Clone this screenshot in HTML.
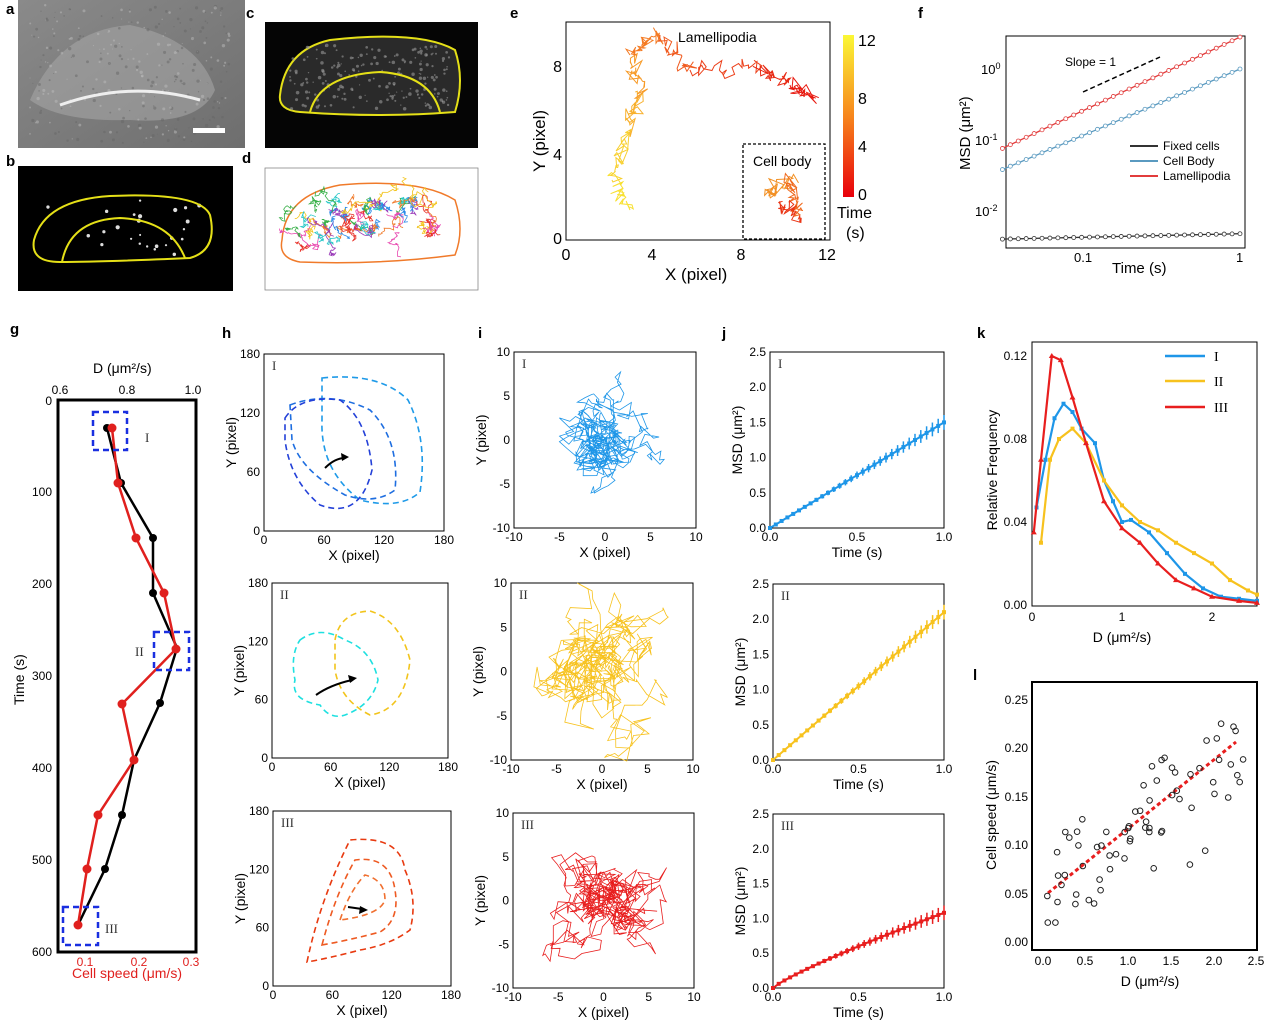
<!DOCTYPE html>
<html><head><meta charset="utf-8"><style>
html,body{margin:0;padding:0;background:#fff}
svg{display:block;font-family:"Liberation Sans",Arial,sans-serif}
.pl{font-weight:bold;font-size:15px}
.t{font-size:12px}
.tl{font-size:14px}
</style></head><body>
<svg id="s" width="1269" height="1025" viewBox="0 0 1269 1025" xmlns="http://www.w3.org/2000/svg">
<defs>
<linearGradient id="gA" x1="0" y1="0" x2="1" y2="1"><stop offset="0" stop-color="#8a8a8a"/><stop offset="0.5" stop-color="#7c7c7c"/><stop offset="1" stop-color="#6e6e6e"/></linearGradient>
<linearGradient id="cb" x1="0" y1="1" x2="0" y2="0"><stop offset="0" stop-color="#e8000b"/><stop offset="0.5" stop-color="#f7861c"/><stop offset="1" stop-color="#fbf836"/></linearGradient>
</defs>
<text class="pl" x="6" y="14">a</text><text class="pl" x="6" y="166">b</text>
<text class="pl" x="246" y="18">c</text><text class="pl" x="242" y="163">d</text>
<text class="pl" x="510" y="18">e</text><text class="pl" x="918" y="18">f</text>
<text class="pl" x="10" y="334">g</text><text class="pl" x="222" y="338">h</text>
<text class="pl" x="478" y="338">i</text><text class="pl" x="722" y="338">j</text>
<text class="pl" x="977" y="338">k</text><text class="pl" x="973" y="680">l</text>
<!-- a -->
<rect x="18" y="0" width="227" height="148" fill="url(#gA)"/>
<path d="M30,100 Q60,30 130,25 Q200,40 215,90 Q200,125 130,120 Q60,122 30,100Z" fill="#a5a5a5" opacity="0.6"/>
<g id="atex"></g>
<path d="M60,105 Q130,80 200,100" stroke="#eee" stroke-width="3" fill="none"/>
<rect x="193" y="128" width="32" height="5" fill="#fff"/>
<!-- b -->
<rect x="18" y="166" width="215" height="125" fill="#000"/>
<g id="btex"></g>
<path d="M34,240 Q45,200 110,196 Q200,192 210,215 Q218,250 190,258 Q100,262 60,262 Q30,262 34,240Z" stroke="#e5e017" stroke-width="2" fill="none"/>
<path d="M62,262 Q70,220 120,218 Q170,220 185,258" stroke="#e5e017" stroke-width="2" fill="none"/>
<!-- c -->
<rect x="265" y="22" width="213" height="126" fill="#050505"/>
<path d="M280,95 Q285,50 330,40 Q420,30 455,50 Q465,80 455,112 Q380,118 300,112 Q278,110 280,95Z" stroke="#e5e017" stroke-width="2" fill="#2a2a2a"/>
<g id="ctex"></g>
<path d="M310,112 Q320,75 380,72 Q430,75 440,112" stroke="#e5e017" stroke-width="2" fill="none"/>
<!-- d -->
<rect x="265" y="168" width="213" height="122" fill="#fff" stroke="#888" stroke-width="0.8"/>
<path d="M282,240 Q285,195 340,185 Q420,178 455,200 Q465,230 455,255 Q380,265 300,262 Q278,258 282,240Z" stroke="#f07a2a" stroke-width="1.5" fill="none"/>
<g id="dwalk"></g>
<!-- e -->
<rect x="566" y="22" width="264" height="218" fill="none" stroke="#000" stroke-width="1"/>
<g id="ewalk"></g>
<rect x="743" y="144" width="82" height="95" fill="none" stroke="#000" stroke-dasharray="3,2" stroke-width="1.3"/>
<text class="tl" x="678" y="42">Lamellipodia</text>
<text class="tl" x="753" y="166">Cell body</text>
<g class="tl" text-anchor="middle"><text x="566" y="260" font-size="16">0</text><text x="652" y="260" font-size="16">4</text><text x="741" y="260" font-size="16">8</text><text x="827" y="260" font-size="16">12</text></g>
<g font-size="16" text-anchor="end"><text x="562" y="244">0</text><text x="562" y="160">4</text><text x="562" y="72">8</text></g>
<text x="665" y="280" font-size="17">X (pixel)</text>
<text transform="translate(545,172) rotate(-90)" font-size="17">Y (pixel)</text>
<rect x="843" y="35" width="11" height="162" fill="url(#cb)"/>
<g font-size="16"><text x="858" y="46">12</text><text x="858" y="104">8</text><text x="858" y="152">4</text><text x="858" y="200">0</text><text x="837" y="218">Time</text><text x="846" y="238">(s)</text></g>
<!-- f -->
<rect x="1006" y="36" width="239" height="212" fill="none" stroke="#000"/>
<g font-size="13"><text x="981" y="74">10<tspan dy="-5" font-size="9">0</tspan></text><text x="975" y="145">10<tspan dy="-5" font-size="9">-1</tspan></text><text x="975" y="216">10<tspan dy="-5" font-size="9">-2</tspan></text>
<text x="1074" y="262">0.1</text><text x="1236" y="262">1</text></g>
<text x="1112" y="273" font-size="15">Time (s)</text>
<text transform="translate(970,170) rotate(-90)" font-size="15">MSD (μm²)</text>
<text x="1065" y="66" font-size="12">Slope = 1</text>
<line x1="1083" y1="92" x2="1160" y2="57" stroke="#000" stroke-dasharray="5,3" stroke-width="1.5"/>
<g id="fser"></g>
<g font-size="12"><line x1="1130" y1="146" x2="1158" y2="146" stroke="#333" stroke-width="2"/><text x="1163" y="150">Fixed cells</text>
<line x1="1130" y1="161" x2="1158" y2="161" stroke="#5a9ac0" stroke-width="2"/><text x="1163" y="165">Cell Body</text>
<line x1="1130" y1="176" x2="1158" y2="176" stroke="#e23c3c" stroke-width="2"/><text x="1163" y="180">Lamellipodia</text></g>
<!-- g -->
<rect x="58" y="400" width="138" height="552" fill="none" stroke="#000" stroke-width="3"/>
<g font-size="12" text-anchor="middle"><text x="60" y="394">0.6</text><text x="127" y="394">0.8</text><text x="193" y="394">1.0</text></g>
<text x="93" y="373" font-size="14">D (μm²/s)</text>
<g font-size="12" text-anchor="end"><text x="52" y="405">0</text><text x="52" y="496">100</text><text x="52" y="588">200</text><text x="52" y="680">300</text><text x="52" y="772">400</text><text x="52" y="864">500</text><text x="52" y="956">600</text></g>
<text transform="translate(24,705) rotate(-90)" font-size="14">Time (s)</text>
<g font-size="12" fill="#e0201e" text-anchor="middle"><text x="85" y="966">0.1</text><text x="139" y="966">0.2</text><text x="191" y="966">0.3</text></g>
<text x="72" y="978" font-size="14" fill="#e0201e">Cell speed (μm/s)</text>
<polyline points="107,428 121,483 153,538 153,593 177,648 160,703 134,760 122,815 105,869 78,925" fill="none" stroke="#000" stroke-width="2.5"/>
<polyline points="112,428 118,483 136,538 164,593 176,649 122,704 134,760 98,815 87,869 78,925" fill="none" stroke="#e0201e" stroke-width="2.5"/>
<g fill="#000"><circle cx="107" cy="428" r="4"/><circle cx="121" cy="483" r="4"/><circle cx="153" cy="538" r="4"/><circle cx="153" cy="593" r="4"/><circle cx="160" cy="703" r="4"/><circle cx="122" cy="815" r="4"/><circle cx="105" cy="869" r="4"/></g>
<g fill="#e0201e"><circle cx="112" cy="428" r="4.5"/><circle cx="118" cy="483" r="4.5"/><circle cx="136" cy="538" r="4.5"/><circle cx="164" cy="593" r="4.5"/><circle cx="176" cy="649" r="4.5"/><circle cx="122" cy="704" r="4.5"/><circle cx="134" cy="760" r="4.5"/><circle cx="98" cy="815" r="4.5"/><circle cx="87" cy="869" r="4.5"/><circle cx="78" cy="925" r="4.5"/></g>
<g fill="none" stroke="#1a2fe0" stroke-width="2.5" stroke-dasharray="6,4"><rect x="93" y="412" width="34" height="38"/><rect x="154" y="632" width="35" height="38"/><rect x="63" y="907" width="35" height="38"/></g>
<g font-family="Liberation Serif,serif" font-size="13" fill="#333"><text x="145" y="442">I</text><text x="135" y="656">II</text><text x="105" y="933">III</text></g>
<g id="rest"></g>
</svg>
<script>
var S=document.getElementById('rest'),NS='http://www.w3.org/2000/svg';
function el(p,t,a,txt){var e=document.createElementNS(NS,t);for(var k in a)e.setAttribute(k,a[k]);if(txt!=null)e.textContent=txt;p.appendChild(e);return e;}
var seed=7;function r(){seed=(seed*16807)%2147483647;return seed/2147483647;}
function g(){return (r()+r()+r()-1.5)*1.4;}
// textures
(function(){var A=document.getElementById('atex');for(var k=0;k<300;k++){el(A,'circle',{cx:30+r()*200,cy:5+r()*140,r:0.5+r()*1.2,fill:r()<0.5?'#bbb':'#666',opacity:0.5});}
var B=document.getElementById('btex');for(var k=0;k<25;k++){el(B,'circle',{cx:45+r()*160,cy:200+r()*55,r:1+r()*1.2,fill:'#ddd'});}
var C=document.getElementById('ctex');for(var k=0;k<200;k++){el(C,'circle',{cx:290+r()*160,cy:45+r()*65,r:0.6+r()*1.2,fill:'#999',opacity:0.6});}})();
function frame(x0,y0,x1,y1,xt,yt,xl,yl,roman){
 el(S,'rect',{x:x0,y:y0,width:x1-x0,height:y1-y0,fill:'none',stroke:'#000','stroke-width':1});
 for(var i=0;i<xt.length;i++){var x=x0+(x1-x0)*xt[i][0];el(S,'text',{x:x,y:y1+13,'font-size':12,'text-anchor':'middle'},xt[i][1]);}
 for(var i=0;i<yt.length;i++){var y=y1-(y1-y0)*yt[i][0];el(S,'text',{x:x0-4,y:y+4,'font-size':12,'text-anchor':'end'},yt[i][1]);}
 el(S,'text',{x:(x0+x1)/2,y:y1+29,'font-size':14,'text-anchor':'middle'},xl);
 el(S,'text',{transform:'translate('+(x0-28)+','+((y0+y1)/2)+') rotate(-90)','font-size':14,'text-anchor':'middle'},yl);
 el(S,'text',{x:x0+8,y:y0+16,'font-size':13,'font-family':'Liberation Serif,serif',fill:'#333'},roman);
}
var hx=[[0,'0'],[1/3,'60'],[2/3,'120'],[1,'180']],hy=[[0,'0'],[1/3,'60'],[2/3,'120'],[1,'180']];
var H=[[264,354,444,531,'I'],[272,583,448,758,'II'],[273,811,451,986,'III']];
H.forEach(function(h){frame(h[0],h[1],h[2],h[3],hx,hy,'X (pixel)','Y (pixel)',h[4]);});
var dp={fill:'none','stroke-width':1.6,'stroke-dasharray':'6,4'};
function dpath(d,c){var a=Object.assign({},dp);a.d=d;a.stroke=c;el(S,'path',a);}
dpath('M322,378 Q380,372 408,400 Q428,440 420,492 Q400,510 360,500 Q320,470 322,420Z','#1e9ae8');
dpath('M290,405 Q330,390 370,410 Q400,440 395,490 Q375,505 345,495 Q300,470 292,440Z','#1e6ee0');
dpath('M285,418 Q300,395 340,400 Q368,420 372,470 Q360,520 320,505 Q290,480 285,440Z','#2340d8');
el(S,'path',{d:'M325,468 Q335,458 345,458',stroke:'#000','stroke-width':2,fill:'none'});el(S,'path',{d:'M349,457 l-8,-4 l1,8z',fill:'#000'});
dpath('M300,640 Q320,625 345,640 Q372,650 378,680 Q372,705 345,715 Q330,720 320,705 Q290,700 295,680 Q290,655 300,640Z','#1ee0e0');
dpath('M335,640 Q340,612 370,611 Q400,620 410,660 Q405,710 370,715 Q340,700 335,670Z','#f2c41c');
el(S,'path',{d:'M316,695 Q330,685 352,680',stroke:'#000','stroke-width':2,fill:'none'});el(S,'path',{d:'M357,678 l-9,-3 l2,8z',fill:'#000'});
dpath('M307,962 Q320,900 350,840 Q400,835 405,870 Q418,900 410,930 Q390,945 360,950 Q330,958 307,962Z','#e83a10');
dpath('M322,945 Q335,895 355,860 Q390,855 395,890 Q400,920 380,932 Q350,940 322,945Z','#ee5a22');
dpath('M340,920 Q350,890 365,875 Q385,880 385,900 Q380,915 340,920Z','#f07030');
el(S,'line',{x1:348,y1:907,x2:362,y2:909,stroke:'#000','stroke-width':2});el(S,'path',{d:'M368,910 l-8,-4 l-1,8z',fill:'#000'});
var ix=[[0,'-10'],[.25,'-5'],[.5,'0'],[.75,'5'],[1,'10']],iy=[[0,'-10'],[.25,'-5'],[.5,'0'],[.75,'5'],[1,'10']];
var I=[[514,352,696,528,'I','#1e96e8',1.3],[511,583,693,760,'II','#f7c21e',2.0],[513,813,694,988,'III','#e81e1e',1.6]];
I.forEach(function(p){frame(p[0],p[1],p[2],p[3],ix,iy,'X (pixel)','Y (pixel)',p[4]);
 var cx=(p[0]+p[2])/2,cy=(p[1]+p[3])/2,w=(p[2]-p[0])/2,x=cx,y=cy,d='M'+x+','+y;
 for(var k=0;k<450;k++){x+=g()*w*0.09*p[6];y+=g()*w*0.09*p[6];x+= (cx-x)*0.06;y+=(cy-y)*0.06;
  x=Math.max(p[0]-4,Math.min(p[2],x));y=Math.max(p[1],Math.min(p[3]+4,y));d+='L'+x.toFixed(1)+','+y.toFixed(1);}
 el(S,'path',{d:d,fill:'none',stroke:p[5],'stroke-width':0.8});});
var jx=[[0,'0.0'],[.5,'0.5'],[1,'1.0']],jy=[[0,'0.0'],[.2,'0.5'],[.4,'1.0'],[.6,'1.5'],[.8,'2.0'],[1,'2.5']];
var J=[[770,352,944,528,'I','#1e96e8',1.5],[773,584,944,760,'II','#f7c21e',2.1],[773,814,944,988,'III','#e81e1e',1.08]];
J.forEach(function(p){frame(p[0],p[1],p[2],p[3],jx,jy,'Time (s)','MSD (μm²)',p[4]);
 var h=p[3]-p[1],w=p[2]-p[0],d='';
 for(var k=0;k<=30;k++){var t=k/30,v=p[6]*(p[4]=='III'?Math.pow(t,0.85):t),x=p[0]+w*t,y=p[3]-h*v/2.5;d+=(k?'L':'M')+x.toFixed(1)+','+y.toFixed(1);
  var e=h*0.03*t*1.4;el(S,'line',{x1:x,y1:y-e,x2:x,y2:y+e,stroke:p[5],'stroke-width':1.5});el(S,'rect',{x:x-2,y:y-2,width:4,height:4,fill:p[5]});}
 el(S,'path',{d:d,fill:'none',stroke:p[5],'stroke-width':2});});
el(S,'rect',{x:1032,y:342,width:225,height:264,fill:'none',stroke:'#000'});
[['0.00',605],['0.04',522],['0.08',439],['0.12',356]].forEach(function(a){el(S,'text',{x:1027,y:a[1]+4,'font-size':12,'text-anchor':'end'},a[0]);});
[['0',1032],['1',1122],['2',1212]].forEach(function(a){el(S,'text',{x:a[1],y:621,'font-size':12,'text-anchor':'middle'},a[0]);});
el(S,'text',{x:1122,y:642,'font-size':14,'text-anchor':'middle'},'D (μm²/s)');
el(S,'text',{transform:'translate(997,470) rotate(-90)','font-size':14,'text-anchor':'middle'},'Relative Frequency');
function kc(pts,c,m){var d='';pts.forEach(function(p,i){var x=1032+p[0]*90,y=605-p[1]*2075;d+=(i?'L':'M')+x+','+y;
 el(S,m=='t'?'path':'rect',m=='t'?{d:'M'+x+','+(y-3)+'l3,5h-6z',fill:c}:{x:x-2,y:y-2,width:4,height:4,fill:c});});
 el(S,'path',{d:d,fill:'none',stroke:c,'stroke-width':2.2});}
kc([[0.05,0.047],[0.15,0.07],[0.25,0.09],[0.35,0.097],[0.45,0.093],[0.55,0.085],[0.7,0.078],[0.8,0.06],[0.9,0.05],[1.0,0.04],[1.1,0.041],[1.3,0.035],[1.5,0.025],[1.7,0.015],[1.9,0.008],[2.1,0.004],[2.3,0.003],[2.5,0.002]],'#1e96e8','s');
kc([[0.1,0.03],[0.2,0.07],[0.3,0.08],[0.45,0.085],[0.6,0.078],[0.8,0.06],[1.0,0.048],[1.2,0.04],[1.4,0.036],[1.6,0.03],[1.8,0.025],[2.0,0.02],[2.2,0.012],[2.4,0.007],[2.5,0.005]],'#f7c21e','s');
kc([[0.02,0.035],[0.1,0.07],[0.22,0.12],[0.32,0.118],[0.45,0.1],[0.6,0.078],[0.8,0.05],[1.0,0.037],[1.2,0.03],[1.4,0.02],[1.6,0.012],[1.8,0.008],[2.0,0.004],[2.3,0.002],[2.5,0.001]],'#e81e1e','t');
[['I',356,'#1e96e8'],['II',381,'#f7c21e'],['III',407,'#e81e1e']].forEach(function(a){el(S,'line',{x1:1165,y1:a[1],x2:1205,y2:a[1],stroke:a[2],'stroke-width':2.5});el(S,'text',{x:1214,y:a[1]+5,'font-size':14,'font-family':'Liberation Serif,serif'},a[0]);});
el(S,'rect',{x:1032,y:682,width:225,height:268,fill:'none',stroke:'#000','stroke-width':2});
[['0.00',942],['0.05',894],['0.10',845],['0.15',797],['0.20',748],['0.25',700]].forEach(function(a){el(S,'text',{x:1028,y:a[1]+4,'font-size':12,'text-anchor':'end'},a[0]);});
[['0.0',1043],['0.5',1085],['1.0',1128],['1.5',1171],['2.0',1214],['2.5',1256]].forEach(function(a){el(S,'text',{x:a[1],y:965,'font-size':12,'text-anchor':'middle'},a[0]);});
el(S,'text',{x:1150,y:986,'font-size':14,'text-anchor':'middle'},'D (μm²/s)');
el(S,'text',{transform:'translate(996,815) rotate(-90)','font-size':14,'text-anchor':'middle'},'Cell speed (μm/s)');
el(S,'line',{x1:1048,y1:893,x2:1236,y2:742,stroke:'#e81e1e','stroke-width':3,'stroke-dasharray':'4,3'});
seed=33;for(var k=0;k<70;k++){var dv=0.05+r()*2.3,sp=0.05+dv*0.06+g()*0.045;sp=Math.max(0.02,Math.min(0.24,sp));var x=1043+dv*85.2,y=942-sp*969;
 el(S,'circle',{cx:x.toFixed(1),cy:y.toFixed(1),r:2.8,fill:'none',stroke:'#222','stroke-width':1});}
var E=document.getElementById('ewalk');
function ewalk(pts,col){for(var i=0;i<pts.length-1;i++){var a=pts[i],b=pts[i+1],x=a[0],y=a[1],d='M'+x+','+y;
 var n=30;for(var k=1;k<=n;k++){var tx=a[0]+(b[0]-a[0])*k/n,ty=a[1]+(b[1]-a[1])*k/n;x=tx+g()*6;y=ty+g()*6;d+='L'+x.toFixed(1)+','+y.toFixed(1);}
 el(E,'path',{d:d,fill:'none',stroke:col[i],'stroke-width':1});}}
ewalk([[630,210],[612,180],[630,130],[640,95],[630,55],[660,35],[690,70],[760,70],[790,85],[810,95]],['#f8e030','#f8d030','#f8b02c','#f79a26','#f47a22','#f05a1e','#ec401a','#e82a14','#e81a10']);
ewalk([[765,195],[790,180],[800,215],[780,205]],['#f29024','#f06a1e','#ea3414']);
var D=document.getElementById('dwalk');var cols=['#e8322a','#2a8ae8','#f2c41c','#38b048','#9a3ab8','#f07a2a','#2ac8c8','#e84ab0'];
seed=91;for(var c=0;c<60;c++){var x=295+r()*150,y=205+(x>370?-8:0)+r()*38,dd='M'+x+','+y;for(var k=0;k<25;k++){x+=g()*3;y+=g()*3;dd+='L'+x.toFixed(1)+','+y.toFixed(1);}
 el(D,'path',{d:dd,fill:'none',stroke:cols[c%8],'stroke-width':0.8});}
var F=document.getElementById('fser');
function fs(fn,c){var d='';for(var k=0;k<=30;k++){var lt=Math.log10(0.03)+k/30*(0-Math.log10(0.03)),x=1240+lt*156,y=69-fn(lt)*71;d+=(k?'L':'M')+x.toFixed(1)+','+y.toFixed(1);el(F,'circle',{cx:x,cy:y,r:2,fill:'#fff',stroke:c,'stroke-width':0.8});}
 el(F,'path',{d:d,fill:'none',stroke:c,'stroke-width':1.3});F.insertBefore(F.lastChild,F.firstChild);}
fs(function(l){return 0.45+l*1.03;},'#e23c3c');
fs(function(l){return 0+l*0.93;},'#5a9ac0');
fs(function(l){return -2.32+l*0.05;},'#333');
</script>
</body></html>
